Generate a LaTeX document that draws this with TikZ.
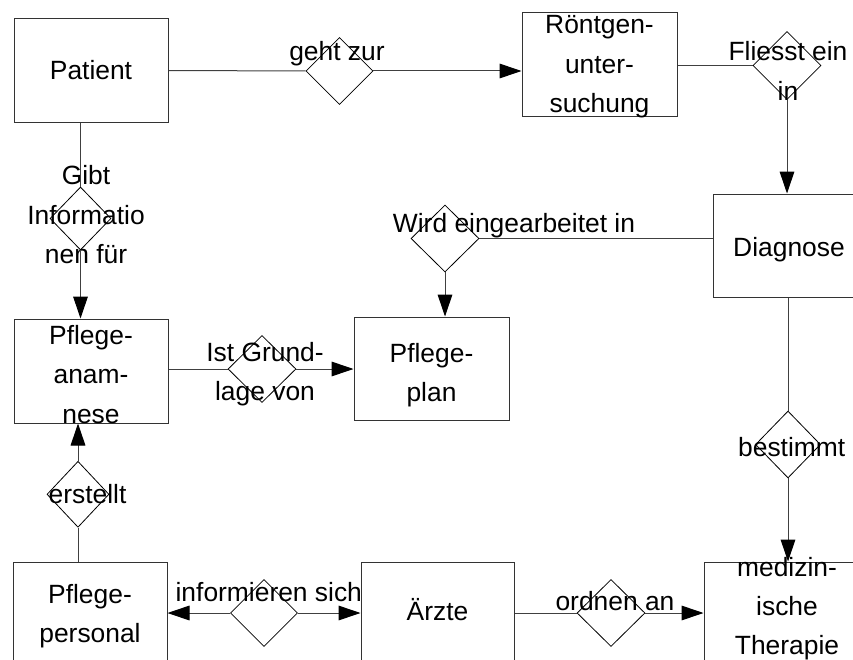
\documentclass[tikz,border=0pt]{standalone}
\usepackage{fontspec}
\setmainfont{Liberation Sans}
\usetikzlibrary{shapes.geometric,arrows.meta}
\newcommand\tdown[1]{\rule{0pt}{#1}}
% box text: last baseline raised by #1 from the node centre, box size unaffected
\newcommand\btxt[2]{\raisebox{#1}[0pt][0pt]{\begin{tabular}[b]{@{}c@{}}#2\end{tabular}}}
\begin{document}
\begin{tikzpicture}[x=0.75pt,y=-0.75pt,
  every node/.style={font=\fontsize{19.8pt}{29.5pt}\selectfont, align=center, inner sep=0pt},
  ent/.style={draw=black!80, line width=0.75pt, minimum width=115.5pt, minimum height=77.25pt},
  rel/.style={draw=black, line width=0.6pt, shape=diamond, minimum width=50.25pt, minimum height=50.25pt},
  conn/.style={draw=black!75, line width=0.75pt},
  arr/.style={conn, -{Triangle[length=16.5pt,width=11pt,color=black]}},
]
\useasboundingbox (0,0) rectangle (853,660);
\clip (0,0) rectangle (853,660);
% entities
\node[ent] (patient) at (91,70.5) {\btxt{-7.1pt}{Patient}};
\node[ent, minimum width=116.25pt] (roent) at (599.5,64.5) {\btxt{-36.1pt}{Röntgen-\\unter-\\suchung}};
\node[ent, minimum width=114pt] (diag) at (789,245.5) {\btxt{-8.6pt}{Diagnose}};
\node[ent, minimum width=116.25pt] (pplan) at (431.5,368.5) {\btxt{-24.9pt}{Pflege-\\plan}};
\node[ent, minimum height=78pt] (panam) at (91,371) {\btxt{-39pt}{Pflege-\\anam-\\nese}};
\node[ent] (ppers) at (90,613.5) {\btxt{-22.1pt}{Pflege-\\personal}};
\node[ent, minimum width=114.75pt] (aerzte) at (437.5,613.5) {\btxt{-4.9pt}{Ärzte}};
\node[ent, minimum width=124.5pt] (med) at (787,613.5) {\btxt{-31.1pt}{medizin-\\ische\\Therapie}};
% relations
\node[rel] (d1) at (339.5,71) {};
\node[rel, minimum width=51pt, minimum height=51pt] (d2) at (787,65.5) {};
\node[rel, minimum width=51pt] (d3) at (445,238.5) {};
\node[rel, minimum width=45.75pt, minimum height=47.25pt] (d4) at (80.5,218.5) {};
\node[rel, minimum width=51pt] (d5) at (262,369) {};
\node[rel, minimum width=46.5pt, minimum height=49.5pt] (d6) at (78,494.3) {};
\node[rel] (d7) at (264,613) {};
\node[rel, minimum width=51pt] (d8) at (611,613) {};
\node[rel, minimum width=48.75pt] (d9) at (788,444.5) {};
% labels
\node[anchor=base] (l1) at (337,61) {geht zur};
\node (l2) at (788,68) {\tdown{19pt}Fliesst ein\\in};
\node[anchor=base] (l3) at (514,232) {Wird eingearbeitet in};
\node (l4) at (86,214.6) {Gibt\\Informatio\\nen für};
\node (l5) at (265,374.5) {Ist Grund-\\lage von};
\node[anchor=base] (l6) at (87.5,503.3) {erstellt};
\node[anchor=base] (l7) at (268.8,601.7) {informieren sich};
\node[anchor=base] (l8) at (615,610) {ordnen an};
\node[anchor=base] (l9) at (791.7,456) {bestimmt};
% connectors
\draw[conn] (patient.east) -- (d1.west);
\draw[arr] (d1.east) -- (d1.east -| roent.west);
\draw[conn] (d2.west -| roent.east) -- (d2.west);
\draw[arr] (d2.south) -- (d2.south |- diag.north);
\draw[conn] (d3.east) -- (d3.east -| diag.west);
\draw[arr] (d3.south) -- (d3.south |- pplan.north);
\draw[conn] (d4.north |- patient.south) -- (d4.north);
\draw[arr] (d4.south) -- (d4.south |- panam.north);
\draw[conn] (d5.west -| panam.east) -- (d5.west);
\draw[arr] (d5.east) -- (d5.east -| pplan.west);
\draw[conn] (d6.south |- ppers.north) -- (d6.south);
\draw[arr] (d6.north) -- (d6.north |- panam.south);
\draw[arr] (d7.west) -- (d7.west -| ppers.east);
\draw[arr] (d7.east) -- (d7.east -| aerzte.west);
\draw[conn] (d8.west -| aerzte.east) -- (d8.west);
\draw[arr] (d8.east) -- (d8.east -| med.west);
\draw[conn] (d9.north |- diag.south) -- (d9.north);
\draw[arr] (d9.south) -- (d9.south |- med.north);
\end{tikzpicture}
\end{document}
